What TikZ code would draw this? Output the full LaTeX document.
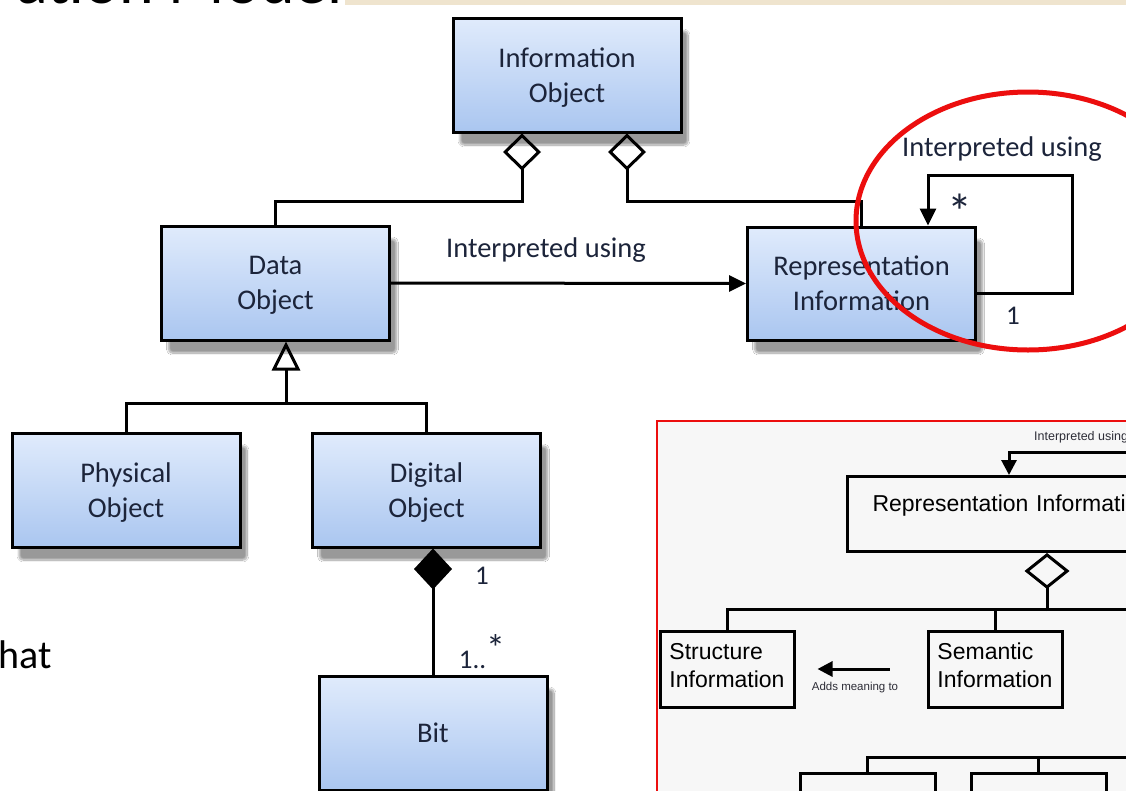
\documentclass[tikz,border=0pt]{standalone}
\usepackage{fontspec}
\setmainfont{Carlito}
\newfontfamily\insetfont{Liberation Sans}
\usepackage{tikz}
\usetikzlibrary{arrows.meta,calc,positioning,shadows.blur}
\definecolor{objtop}{RGB}{224,235,252}
\definecolor{objbottom}{RGB}{170,198,240}
\definecolor{objtext}{RGB}{28,36,58}
\definecolor{markred}{RGB}{236,14,14}
\definecolor{insetgray}{RGB}{247,247,247}
\definecolor{insettext}{RGB}{45,45,55}
\definecolor{titlebeige}{RGB}{239,228,206}
\tikzstyle{classbox} = [rectangle, draw=black, line width=3pt, top color=objtop, bottom color=objbottom, minimum width=228pt, minimum height=114pt, align=center, text=objtext, text depth=0pt, font=\fontsize{28.5}{35}\selectfont, blur shadow={shadow xshift=7pt, shadow yshift=-13pt, shadow blur steps=14, shadow blur extra rounding=4pt, shadow opacity=40}]
\tikzstyle{conn} = [line width=3pt]
\tikzstyle{aggr} = [conn, -{Diamond[open,length=37pt,width=38pt]}]
\tikzstyle{gener} = [conn, -{Triangle[open,length=29pt,width=28pt]}]
\tikzstyle{compo} = [conn, -{Diamond[length=41pt,width=38pt]}]
\tikzstyle{assoc} = [conn, -{Triangle[length=17pt,width=16pt]}]
\tikzstyle{mult} = [text=objtext, font=\fontsize{27}{30}\selectfont]
\tikzstyle{insetbox} = [rectangle, draw=black, line width=3pt, fill=insetgray, text=black, font=\insetfont\fontsize{23}{28}\selectfont]
\tikzstyle{iconn} = [line width=3pt]
\tikzstyle{iaggr} = [iconn, -{Diamond[open,length=36pt,width=45pt]}]
\tikzstyle{iassoc} = [iconn, -{Triangle[length=15pt,width=15pt]}]

\begin{document}
\begin{tikzpicture}[x=1pt, y=-1pt]
\useasboundingbox (0,0) rectangle (1126,790);
\clip (0,0) rectangle (1126,790);
\fill[white] (0,0) rectangle (1126,790);

% Slide title and side text
\fill[titlebeige] (345,0) rectangle (1126,5);
\node[font=\fontsize{66}{70}\selectfont, anchor=base east, inner sep=0pt] (titletext) at (343,3) {ation Model};
\node[font=\fontsize{40}{48}\selectfont, anchor=base west, inner sep=0pt] (sidetext) at (-2,668) {hat};

% Classes
\node[classbox] (infoobj) at (567,75) {Information\\Object};
\node[classbox] (dataobj) at (275.5,283) {Data\\Object};
\node[classbox, minimum height=113pt] (repinfo) at (861.5,283.5) {Representation\\Information};
\node[classbox] (physobj) at (126,490) {Physical\\Object};
\node[classbox] (digobj) at (426.5,490) {Digital\\Object};
\node[classbox] (bit) at (433,733) {Bit};

% Aggregation
\coordinate (infoleft) at ($(infoobj.south)+(-45,0)$);
\coordinate (inforight) at ($(infoobj.south)+(60,0)$);
\draw[aggr] (dataobj.north) |- ($(infoleft)+(0,68)$) -- (infoleft);
\draw[aggr] (repinfo.north) |- ($(inforight)+(0,68)$) -- (inforight);

% Generalization
\coordinate (genjoin) at (286,403);
\draw[conn] (physobj.north) |- (genjoin) -| (digobj.north);
\draw[gener] (genjoin) -- (genjoin |- dataobj.south);

% Composition
\draw[compo] (bit.north) -- (bit.north |- digobj.south);
\node[mult] (compone) at (482,576) {1};
\node[mult] (compmany) at (482,652) {1..\raisebox{7pt}{\fontsize{38}{38}\selectfont *}};

% Associations
\draw[assoc] (dataobj.east) -- (repinfo.west);
\node[mult, font=\fontsize{28.5}{32}\selectfont] (uselbl) at (546,250) {Interpreted using};
\draw[assoc] ([yshift=-9.5pt]repinfo.east) -| ++(95,-118) -| ([xshift=66.5pt]repinfo.north);
\node[mult, font=\fontsize{28.5}{32}\selectfont] (looplbl) at (1002,149) {Interpreted using};
\node[mult, font=\fontsize{50}{50}\selectfont] (loopstar) at (960,212) {*};
\node[mult] (loopone) at (1013,316) {1};

% Highlight
\draw[markred, line width=5pt] (1028,221) ellipse [x radius=172, y radius=129];

% Inset
\draw[markred, line width=1.5pt, fill=insetgray] (657,421) rectangle (1140,800);
\node[insetbox, anchor=north west, text width=300pt, align=left, inner xsep=25pt, inner ysep=0pt, text height=35pt, text depth=40pt] (irinfo) at (846,475) {Representation Information};
\node[insetbox, minimum width=134pt, minimum height=76pt, align=left, inner xsep=9pt, text depth=8pt] (strinfo) at (727,669) {Structure\\Information};
\node[insetbox, minimum width=134pt, minimum height=76pt, align=left, inner xsep=9pt, text depth=8pt] (seminfo) at (995,669) {Semantic\\Information};
\node[insetbox, minimum width=135pt, minimum height=76pt] (lowleft) at (867.5,811) {};
\node[insetbox, minimum width=135pt, minimum height=76pt] (lowright) at (1038.5,811) {};

\coordinate (iagg) at ($(irinfo.south west)+(201,0)$);
\coordinate (ijoin) at ($(iagg)+(0,58)$);
\coordinate (iright) at (1140,609);
\coordinate (itop) at (1140,452);
\coordinate (lowend) at (1140,757);
\draw[iconn] (strinfo.north) |- (iright);
\draw[iconn] (seminfo.north) -- (seminfo.north |- ijoin);
\draw[iaggr] (ijoin) -- (iagg);
\draw[iassoc] (itop) -| ([xshift=163pt]irinfo.north west);
\node[font=\insetfont\fontsize{12.5}{14}\selectfont, text=insettext, anchor=west, inner sep=0pt] (itoplbl) at (1034,437) {Interpreted using};
\draw[iassoc] ([xshift=-37pt]seminfo.west) -- ([xshift=22pt]strinfo.east);
\node[font=\insetfont\fontsize{11.5}{14}\selectfont, text=insettext] (addlbl) at (855,688) {Adds meaning to};
\draw[iconn] (lowleft.north) |- (lowend);
\draw[iconn] (lowright.north) -- (lowright.north |- lowend);
\end{tikzpicture}
\end{document}
